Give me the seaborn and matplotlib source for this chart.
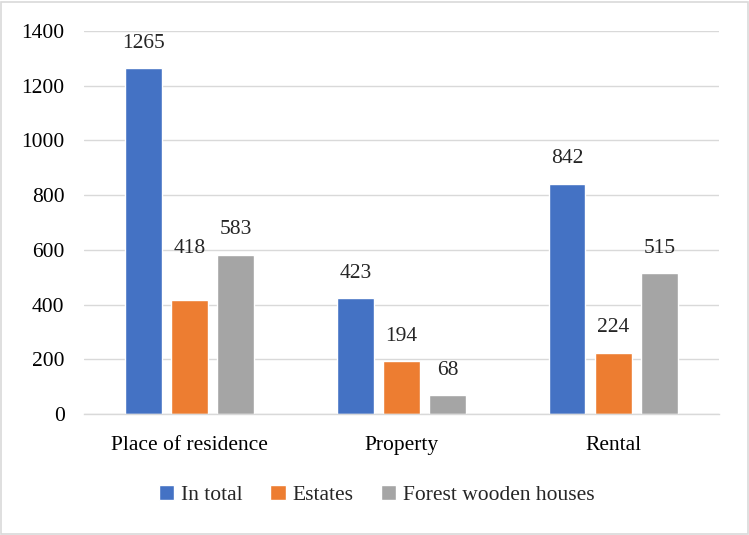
import matplotlib
matplotlib.use("Agg")
import matplotlib.pyplot as plt
import seaborn as sns
import pandas as pd
from matplotlib.patches import Rectangle

categories = ["Place of residence", "Property", "Rental"]
series = ["In total", "Estates", "Forest wooden houses"]
in_total = [1265, 423, 842]
estates = [418, 194, 224]
forest = [583, 68, 515]
colors = ["#4472C4", "#ED7D31", "#A5A5A5"]

rows = []
for s, vals in zip(series, [in_total, estates, forest]):
    for c, v in zip(categories, vals):
        rows.append({"category": c, "series": s, "value": v})
df = pd.DataFrame(rows)

sns.set_style("white")
plt.rcParams["font.family"] = ["Liberation Serif", "DejaVu Serif"]
FS = 15.5

fig = plt.figure(figsize=(7.49, 5.35), dpi=100)
ax = fig.add_axes([0.1121, 0.2262, 0.8478, 0.7158])

sns.barplot(data=df, x="category", y="value", hue="series", palette=colors,
            width=0.654, gap=0.2, ax=ax, legend=True, saturation=1)

ax.set_ylim(0, 1400)
ax.set_yticks(range(0, 1401, 200))
ax.yaxis.grid(True, color="#D9D9D9", linewidth=1)
ax.set_axisbelow(True)
for sp in ["top", "right", "left"]:
    ax.spines[sp].set_visible(False)
ax.spines["bottom"].set_color("#D9D9D9")
ax.spines["bottom"].set_linewidth(1)
ax.tick_params(axis="both", length=0, labelsize=FS, colors="black")
ax.tick_params(axis="y", pad=14)
ax.tick_params(axis="x", pad=16)
ax.set_xlabel("")
ax.set_ylabel("")

for cont in ax.containers:
    texts = ax.bar_label(cont, padding=11, fontsize=FS)
    for t in texts:
        if t.get_text() == "418":
            t.set_position((0, 30))

handles, labels = ax.get_legend_handles_labels()
ax.legend_.remove()
fig.legend(handles, labels, loc="center", bbox_to_anchor=(0.503, 0.074), ncol=3,
           frameon=False, fontsize=FS, handlelength=0.7, handleheight=0.7,
           handletextpad=0.3, columnspacing=1.3)

fig.patches.append(Rectangle((0.002, 0.002), 0.996, 0.994, transform=fig.transFigure,
                             fill=False, edgecolor="#D9D9D9", linewidth=1.2))

fig.savefig("out.png", dpi=100)
